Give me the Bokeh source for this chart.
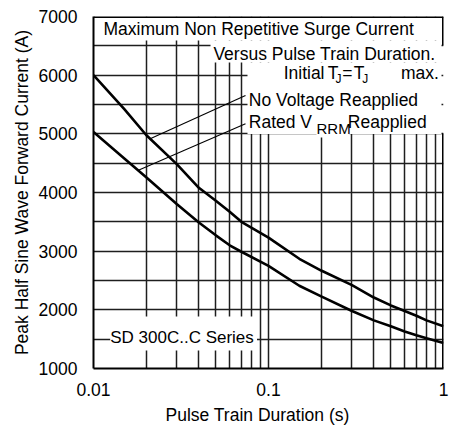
from bokeh.plotting import figure
from bokeh.models import FixedTicker, Label, Range1d, Title
from bokeh.embed import file_html
from bokeh.resources import INLINE

# ---- data ----
pulse_s = [0.01, 0.015, 0.02, 0.03, 0.04, 0.05, 0.06, 0.07, 0.1, 0.15,
           0.2, 0.3, 0.4, 0.5, 0.6, 0.7, 0.8, 1.0]
no_voltage_a = [6000, 5420, 4980, 4480, 4080, 3860, 3670, 3500, 3230, 2870,
                2670, 2420, 2210, 2075, 1980, 1900, 1820, 1720]
rated_vrrm_a = [5030, 4580, 4260, 3800, 3490, 3270, 3100, 2990, 2750, 2410,
                2230, 1980, 1820, 1720, 1630, 1565, 1515, 1435]

x_ticks = [0.01, 0.1, 1.0]
x_tick_labels = ["0.01", "0.1", "1"]
x_minor = [0.02, 0.03, 0.04, 0.05, 0.06, 0.07, 0.08, 0.09,
           0.2, 0.3, 0.4, 0.5, 0.6, 0.7, 0.8, 0.9]
y_ticks = [1000, 2000, 3000, 4000, 5000, 6000, 7000]
y_minor = [1500, 2500, 3500, 4500, 5500, 6500]

x_title = "Pulse Train Duration (s)"
y_title = "Peak Half Sine Wave Forward Current (A)"

FONT = "Liberation Sans"
GRID = "#1e1e1e"

# helpers: place annotations using reference page pixels
X0, DEC, Y0, PX1000 = 93.0, 175.0, 16.0, 58.67


def px_x(px):
    return 10 ** (-2 + (px - X0) / DEC)


def px_y(py):
    return 7000 - (py - Y0) * 1000.0 / PX1000


p = figure(width=463, height=430, x_axis_type="log",
           x_range=Range1d(0.01, 1.0), y_range=Range1d(1000, 7000),
           output_backend="svg", toolbar_location=None,
           min_border_left=93, min_border_right=20,
           min_border_top=16, min_border_bottom=62)
p.outline_line_color = None
p.background_fill_color = "white"
p.border_fill_color = "white"

xt = FixedTicker(ticks=x_ticks, minor_ticks=x_minor)
yt = FixedTicker(ticks=y_ticks, minor_ticks=y_minor)
p.xaxis.ticker = xt
p.yaxis.ticker = yt
p.xgrid.ticker = xt
p.ygrid.ticker = yt
p.xaxis.major_label_overrides = dict(zip(x_ticks, x_tick_labels))

for g in (p.xgrid, p.ygrid):
    g.grid_line_color = GRID
    g.grid_line_width = 1.5
    g.minor_grid_line_color = GRID
    g.minor_grid_line_width = 1.5

for ax in p.axis:
    ax.axis_line_color = "black"
    ax.axis_line_width = 2
    ax.major_tick_line_color = None
    ax.minor_tick_line_color = None
    ax.major_label_text_font = FONT
    ax.major_label_text_font_size = "17.5px"
    ax.major_label_text_color = "black"
    ax.axis_label_text_font = FONT
    ax.axis_label_text_font_size = "17.5px"
    ax.axis_label_text_font_style = "normal"
    ax.axis_label_text_color = "black"

p.yaxis.axis_label = y_title
p.xaxis.major_label_standoff = 8
p.yaxis.major_label_standoff = 10
p.yaxis.axis_label_standoff = 4

# x-axis title as a title below the axis, shifted left like the reference
p.add_layout(Title(text=x_title, align="left", offset=72, standoff=9,
                   text_font=FONT, text_font_size="17.5px",
                   text_font_style="normal", text_color="black"), "below")

# white text boxes covering the grid
box_l = [px_x(X0), px_x(210), px_x(247), px_x(316), px_x(109.7)]
box_r = [px_x(441), px_x(441), px_x(441), px_x(349), px_x(256.5)]
box_t = [px_y(Y0), px_y(40), px_y(62), px_y(132), px_y(316)]
box_b = [px_y(40), px_y(62), px_y(133.5), px_y(137), px_y(350)]
p.quad(left=box_l, right=box_r, top=box_t, bottom=box_b,
       fill_color="white", line_color=None)

# frame: top and visible parts of the right edge
p.segment(x0=[px_x(X0), px_x(443), px_x(443)], y0=[px_y(Y0), px_y(368), px_y(45)],
          x1=[px_x(443), px_x(443), px_x(443)], y1=[px_y(Y0), px_y(133), px_y(Y0)],
          line_width=3, color="black")

# curves
p.line(pulse_s, no_voltage_a, line_width=2.6, color="black")
p.line(pulse_s, rated_vrrm_a, line_width=2.6, color="black")

# leader lines
p.segment(x0=[px_x(245), px_x(245)], y0=[px_y(95), px_y(123.3)],
          x1=[px_x(149.7), px_x(137.3)], y1=[px_y(138.3), px_y(170)],
          line_width=1.1, color="black")


def lab(px, py, text, align="left", size="17.5px"):
    p.add_layout(Label(x=px_x(px), y=px_y(py), text=text, text_font=FONT,
                       text_font_size=size, text_align=align,
                       text_baseline="middle", text_color="black"))


lab(103, 29, "Maximum Non Repetitive Surge Current")
lab(435, 53.5, "Versus Pulse Train Duration.", align="right")
lab(324, 73, "Initial", align="right")
lab(327.3, 73, "T")
lab(335, 78.5, "J", size="12px")
lab(341.7, 73, "=")
lab(353.3, 73, "T")
lab(361.7, 78.5, "J", size="12px")
lab(438.3, 73, "max.", align="right")
lab(248.3, 99.5, "No Voltage Reapplied")
lab(248.3, 121.7, "Rated V")
lab(316, 128.2, "RRM", size="15px")
lab(347.3, 121.7, "Reapplied")
lab(109.7, 337, "SD 300C..C Series", size="17px")

open("out.html", "w").write(file_html(p, INLINE))
